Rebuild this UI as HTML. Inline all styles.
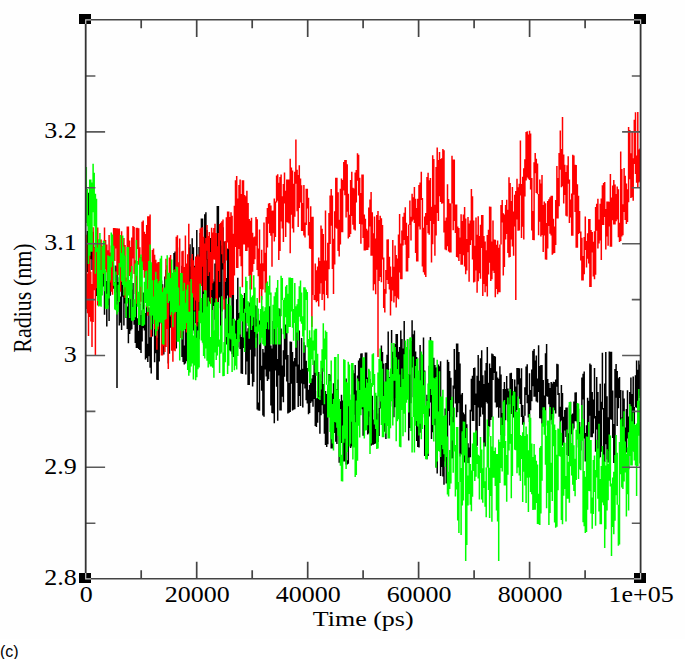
<!DOCTYPE html>
<html><head><meta charset="utf-8"><title>Radius vs Time</title><style>
html,body{margin:0;padding:0;background:#fff;overflow:hidden}
svg{display:block}
.c{position:absolute;left:0px;top:643px;font:16px "Liberation Sans",sans-serif;color:#000}
</style></head><body>
<svg width="685" height="659" viewBox="0 0 685 659">
<rect x="0" y="0" width="685" height="639" fill="#fefefe"/>
<g fill="none" stroke-width="1.5">
<path d="M86.3 237.1V267.4M87.4 230.9V272.0M88.5 192.8V273.2M89.7 220.0V287.0M90.8 215.3V259.3M92.0 246.2V270.1M93.1 231.7V260.1M94.2 247.3V283.3M95.4 242.8V280.3M96.5 256.0V295.9M97.7 258.8V297.1M98.8 273.7V289.3M99.9 253.8V299.9M101.1 255.8V277.6M102.2 249.4V287.6M103.4 256.1V286.4M104.5 261.3V314.7M105.6 272.5V300.3M106.8 281.0V326.4M107.9 263.2V305.3M109.1 279.7V320.9M110.2 271.2V295.8M111.3 263.9V286.7M112.5 260.9V279.9M113.6 265.5V288.8M114.8 282.1V293.3M115.9 265.4V292.4M117.0 266.4V388.0M118.2 281.9V301.1M119.3 277.2V325.4M120.5 296.5V322.8M121.6 277.5V330.1M122.7 272.8V296.8M123.9 289.6V325.5M125.0 286.5V303.4M126.1 287.2V318.0M127.3 306.5V328.9M128.4 298.1V343.3M129.6 314.1V334.1M130.7 298.5V330.6M131.8 289.4V329.3M133.0 282.9V316.4M134.1 310.6V324.8M135.3 301.9V342.9M136.4 293.4V348.0M137.5 318.2V348.0M138.7 330.8V348.9M139.8 303.9V350.0M141.0 315.0V353.0M142.1 310.3V341.6M143.2 292.6V328.2M144.4 304.7V330.4M145.5 312.9V359.5M146.7 296.5V358.0M147.8 343.7V362.0M148.9 307.6V356.2M150.1 337.2V367.8M151.2 303.8V373.6M152.4 291.7V336.6M153.5 290.3V302.2M154.6 290.2V362.2M155.8 313.4V353.3M156.9 337.7V379.8M158.1 327.2V379.9M159.2 284.1V361.4M160.3 281.8V310.5M161.5 280.4V324.1M162.6 284.2V323.8M163.8 296.7V354.6M164.9 276.6V336.0M166.0 269.8V276.6M167.2 269.6V326.1M168.3 299.5V363.4M169.4 288.8V353.7M170.6 267.2V327.8M171.7 281.7V323.7M172.9 273.3V330.8M174.0 253.1V319.1M175.1 251.5V309.0M176.3 274.0V348.6M177.4 247.5V312.9M178.6 271.5V312.9M179.7 272.9V311.9M180.8 281.6V329.6M182.0 265.7V357.0M183.1 269.9V362.0M184.3 345.5V364.5M185.4 292.6V363.5M186.5 291.9V361.2M187.7 285.4V361.2M188.8 247.4V308.8M190.0 244.2V292.9M191.1 266.5V324.5M192.2 238.2V305.2M193.4 247.3V330.5M194.5 265.8V333.8M195.7 261.1V323.2M196.8 230.1V340.9M197.9 271.8V330.5M199.1 246.9V339.3M200.2 233.1V301.9M201.4 218.6V273.2M202.5 218.6V315.5M203.6 281.2V344.5M204.8 214.3V283.7M205.9 212.3V259.7M207.0 230.1V325.9M208.2 258.9V312.6M209.3 248.6V302.0M210.5 238.1V287.8M211.6 244.6V297.4M212.7 279.2V330.6M213.9 281.6V306.1M215.0 263.6V319.8M216.2 253.4V312.7M217.3 206.1V293.4M218.4 206.1V308.2M219.6 257.2V297.6M220.7 238.4V336.6M221.9 245.6V311.4M223.0 227.2V269.5M224.1 241.5V299.4M225.3 281.6V344.3M226.4 278.0V344.5M227.6 248.4V295.4M228.7 248.4V350.0M229.8 317.2V350.4M231.0 317.8V351.5M232.1 264.9V354.3M233.3 294.6V357.0M234.4 320.5V357.0M235.5 320.5V362.4M236.7 299.3V344.3M237.8 277.8V347.5M239.0 313.0V338.9M240.1 312.3V348.9M241.2 337.0V373.5M242.4 297.9V374.1M243.5 297.9V348.0M244.6 293.0V346.0M245.8 312.4V374.6M246.9 331.4V361.5M248.1 328.3V385.0M249.2 302.6V385.0M250.3 303.1V349.7M251.5 304.1V373.7M252.6 325.6V386.4M253.8 305.1V382.0M254.9 305.1V356.4M256.0 305.8V337.8M257.2 318.7V409.4M258.3 402.6V410.6M259.5 320.6V410.8M260.6 313.7V380.2M261.7 365.7V390.8M262.9 348.9V415.5M264.0 352.5V416.7M265.2 311.0V369.4M266.3 311.0V376.4M267.4 313.7V381.1M268.6 311.8V379.3M269.7 306.2V371.4M270.9 345.5V405.6M272.0 348.6V413.1M273.1 321.0V413.5M274.3 318.9V423.2M275.4 319.8V370.5M276.6 312.7V386.7M277.7 359.1V420.8M278.8 308.6V375.4M280.0 308.7V410.6M281.1 328.5V410.6M282.3 365.5V396.8M283.4 350.2V402.3M284.5 328.2V376.7M285.7 324.5V359.6M286.8 328.2V381.5M287.9 355.0V413.4M289.1 382.9V412.8M290.2 341.6V412.1M291.4 341.8V383.7M292.5 352.1V410.4M293.6 361.2V409.7M294.8 358.0V409.3M295.9 320.2V366.4M297.1 331.3V383.0M298.2 364.4V407.0M299.3 330.6V395.9M300.5 369.8V406.0M301.6 337.9V383.5M302.8 368.7V407.5M303.9 342.2V384.2M305.0 345.3V388.4M306.2 360.7V400.3M307.3 368.0V403.4M308.5 389.7V414.3M309.6 385.1V412.9M310.7 381.5V402.9M311.9 378.6V401.6M313.0 375.1V406.7M314.2 360.5V398.9M315.3 369.2V426.1M316.4 398.3V427.1M317.6 391.1V422.7M318.7 371.9V412.2M319.9 395.8V433.8M321.0 380.9V415.2M322.1 366.4V405.2M323.3 384.1V413.8M324.4 395.9V433.7M325.5 390.9V445.1M326.7 393.9V447.0M327.8 388.7V444.3M329.0 374.1V388.7M330.1 374.4V416.1M331.2 395.9V448.4M332.4 393.5V448.4M333.5 383.3V428.0M334.7 408.4V433.1M335.8 392.5V441.7M336.9 389.1V443.9M338.1 379.6V420.6M339.2 420.6V462.7M340.4 401.2V443.1M341.5 394.7V443.1M342.6 400.6V435.8M343.8 405.8V461.6M344.9 390.6V461.6M346.1 378.6V464.4M347.2 460.3V464.5M348.3 393.7V463.8M349.5 394.5V430.8M350.6 403.7V447.9M351.8 400.7V446.4M352.9 370.3V400.7M354.0 373.3V414.8M355.2 364.9V424.8M356.3 390.5V424.8M357.5 375.4V417.9M358.6 360.5V423.2M359.7 358.3V393.5M360.9 353.5V393.1M362.0 353.2V409.3M363.1 381.5V435.8M364.3 379.5V435.8M365.4 352.6V401.3M366.6 352.5V416.6M367.7 377.4V434.5M368.8 369.8V433.5M370.0 379.1V416.8M371.1 383.6V445.7M372.3 395.8V444.8M373.4 419.5V444.7M374.5 409.8V444.1M375.7 402.5V443.5M376.8 395.7V436.2M378.0 413.6V442.1M379.1 408.0V436.1M380.2 373.2V408.5M381.4 345.5V388.9M382.5 351.9V417.4M383.7 363.5V398.0M384.8 393.6V431.7M385.9 362.9V438.9M387.1 354.8V408.6M388.2 331.5V397.6M389.4 377.1V421.5M390.5 371.4V406.5M391.6 330.1V389.6M392.8 351.7V398.4M393.9 358.1V417.3M395.1 343.9V407.3M396.2 334.0V397.9M397.3 334.0V394.0M398.5 351.7V405.0M399.6 347.0V407.5M400.8 330.6V391.1M401.9 339.0V387.8M403.0 348.5V389.0M404.2 321.1V389.0M405.3 342.6V391.2M406.4 347.6V391.2M407.6 339.3V394.2M408.7 374.5V440.5M409.9 349.4V427.9M411.0 341.0V403.2M412.1 320.2V367.4M413.3 334.3V397.3M414.4 330.5V411.1M415.6 351.6V417.8M416.7 356.9V441.1M417.8 420.2V447.1M419.0 399.2V447.4M420.1 344.9V432.8M421.3 369.9V418.5M422.4 371.3V417.4M423.5 337.4V394.8M424.7 370.5V455.9M425.8 412.8V457.1M427.0 394.8V459.2M428.1 399.1V455.9M429.2 365.8V416.6M430.4 337.0V402.4M431.5 355.4V438.9M432.7 361.8V432.3M433.8 357.8V408.5M434.9 365.1V425.2M436.1 367.5V467.4M437.2 367.2V473.6M438.4 364.6V437.9M439.5 366.2V411.0M440.6 361.3V475.9M441.8 410.0V466.9M442.9 415.8V476.4M444.0 436.1V484.8M445.2 408.5V461.6M446.3 408.5V483.4M447.5 359.7V483.4M448.6 361.9V411.1M449.7 371.0V425.6M450.9 377.8V416.7M452.0 416.7V458.6M453.2 385.5V458.0M454.3 348.9V388.8M455.4 369.7V403.6M456.6 343.4V417.2M457.7 343.4V412.3M458.9 352.0V403.2M460.0 363.4V456.6M461.1 394.6V454.5M462.3 393.0V432.8M463.4 412.4V443.6M464.6 414.3V462.6M465.7 404.6V441.0M466.8 424.3V443.2M468.0 443.2V463.1M469.1 447.5V463.2M470.3 409.8V457.3M471.4 378.7V411.4M472.5 375.8V421.0M473.7 367.9V421.0M474.8 367.5V405.1M476.0 393.5V458.0M477.1 375.7V445.8M478.2 355.0V407.4M479.4 380.8V426.1M480.5 358.3V416.8M481.7 350.3V407.4M482.8 375.3V414.4M483.9 384.0V446.5M485.1 370.6V446.5M486.2 362.9V402.0M487.3 347.1V403.6M488.5 382.8V436.6M489.6 363.6V426.8M490.8 367.9V419.9M491.9 353.5V417.2M493.0 354.3V380.1M494.2 356.0V373.0M495.3 356.5V402.6M496.5 371.4V407.6M497.6 377.5V407.0M498.7 378.8V417.8M499.9 366.3V407.7M501.0 374.6V435.0M502.2 412.9V445.6M503.3 389.1V444.3M504.4 382.0V435.9M505.6 388.9V420.3M506.7 376.1V404.6M507.9 388.6V421.5M509.0 391.2V413.3M510.1 373.2V404.3M511.3 372.7V413.9M512.4 379.0V405.9M513.6 391.8V417.6M514.7 379.5V417.6M515.8 386.5V423.7M517.0 368.1V409.9M518.1 368.1V384.4M519.3 368.2V398.8M520.4 378.3V404.1M521.5 368.3V417.0M522.7 404.9V424.7M523.8 415.7V424.6M524.9 387.3V415.7M526.1 366.6V395.0M527.2 364.3V403.3M528.4 394.7V417.4M529.5 373.2V422.1M530.6 390.1V410.2M531.8 369.4V401.3M532.9 350.8V386.3M534.1 349.1V396.8M535.2 360.5V396.8M536.3 355.5V401.5M537.5 378.4V402.4M538.6 345.2V392.0M539.8 366.1V418.2M540.9 365.0V418.5M542.0 365.0V423.7M543.2 379.9V410.1M544.3 395.5V425.4M545.5 353.2V425.4M546.6 344.0V396.2M547.7 379.0V396.8M548.9 383.0V404.2M550.0 388.1V420.6M551.2 382.0V419.8M552.3 383.4V424.6M553.4 381.7V418.6M554.6 382.0V410.3M555.7 379.5V413.5M556.9 363.8V386.8M558.0 364.2V395.0M559.1 392.9V416.7M560.3 406.7V440.6M561.4 385.1V420.6M562.5 392.9V445.5M563.7 416.7V446.5M564.8 410.0V430.4M566.0 407.4V437.1M567.1 407.4V454.9M568.2 433.2V456.0M569.4 405.6V437.4M570.5 401.8V444.7M571.7 414.4V434.2M572.8 413.4V430.3M573.9 401.6V428.5M575.1 392.6V421.3M576.2 392.3V421.3M577.4 406.2V422.4M578.5 408.7V447.6M579.6 421.9V464.0M580.8 427.5V450.5M581.9 377.6V429.0M583.1 373.8V399.5M584.2 371.6V438.4M585.3 432.9V461.4M586.5 425.3V461.3M587.6 397.8V448.1M588.8 400.7V444.1M589.9 363.6V415.7M591.0 364.8V437.2M592.2 392.1V437.2M593.3 399.5V433.6M594.5 368.1V418.5M595.6 416.0V451.8M596.7 376.9V429.6M597.9 392.0V457.5M599.0 410.8V458.4M600.2 383.7V457.2M601.3 401.8V451.8M602.4 352.8V409.4M603.6 408.1V461.8M604.7 383.5V462.0M605.8 351.9V444.2M607.0 396.2V459.4M608.1 417.3V462.4M609.3 351.4V451.1M610.4 351.8V419.3M611.5 351.8V419.8M612.7 390.4V437.9M613.8 423.9V462.9M615.0 369.0V463.0M616.1 364.0V397.7M617.2 371.0V426.0M618.4 378.3V408.3M619.5 377.0V398.0M620.7 390.0V446.7M621.8 417.6V466.4M622.9 390.6V427.3M624.1 398.4V440.7M625.2 427.6V454.3M626.4 409.0V452.5M627.5 390.3V438.6M628.6 416.4V469.3M629.8 392.1V435.7M630.9 377.4V430.1M632.1 393.9V421.4M633.2 376.4V445.6M634.3 407.0V451.9M635.5 375.2V407.3M636.6 360.4V407.7M637.8 369.7V403.9M638.9 360.4V398.1M640.0 364.5V395.8" stroke="#000"/>
<path d="M86.3 234.7V309.0M87.4 273.6V313.3M88.5 242.3V336.0M89.7 242.3V316.9M90.8 271.7V321.6M92.0 283.9V347.0M93.1 227.2V321.9M94.2 247.6V290.3M95.4 256.4V356.0M96.5 238.6V288.3M97.7 227.4V305.4M98.8 253.3V294.8M99.9 239.4V278.2M101.1 239.4V281.2M102.2 245.5V274.0M103.4 249.7V274.0M104.5 227.6V267.5M105.6 239.9V269.4M106.8 244.6V272.6M107.9 250.2V281.4M109.1 235.1V273.1M110.2 252.6V282.5M111.3 245.6V291.8M112.5 245.7V294.8M113.6 228.0V260.0M114.8 228.1V260.9M115.9 228.2V248.5M117.0 228.2V275.1M118.2 228.4V275.1M119.3 228.5V274.0M120.5 248.3V291.7M121.6 231.2V282.0M122.7 242.5V267.0M123.9 238.0V263.3M125.0 245.0V297.7M126.1 277.6V297.9M127.3 226.4V277.6M128.4 226.4V262.5M129.6 240.4V275.9M130.7 247.0V299.2M131.8 237.5V278.6M133.0 226.1V258.6M134.1 227.0V274.1M135.3 260.2V294.1M136.4 227.7V303.8M137.5 227.8V248.9M138.7 228.2V264.8M139.8 247.2V305.0M141.0 257.0V301.8M142.1 221.7V267.5M143.2 220.5V270.0M144.4 231.7V277.7M145.5 234.0V274.2M146.7 224.9V307.6M147.8 216.3V315.7M148.9 216.3V280.1M150.1 214.4V272.0M151.2 264.5V336.9M152.4 250.1V302.3M153.5 248.4V302.3M154.6 254.8V329.2M155.8 259.7V296.1M156.9 263.3V349.8M158.1 262.0V329.6M159.2 262.0V312.0M160.3 291.7V322.5M161.5 284.9V355.6M162.6 287.5V355.6M163.8 298.6V346.2M164.9 306.9V352.1M166.0 258.7V347.0M167.2 265.2V329.1M168.3 291.6V369.0M169.4 257.4V295.6M170.6 254.9V316.5M171.7 296.2V350.7M172.9 281.4V361.8M174.0 293.7V350.6M175.1 268.9V351.3M176.3 236.8V297.2M177.4 235.3V301.1M178.6 262.2V302.2M179.7 238.6V308.3M180.8 273.9V337.9M182.0 251.3V315.0M183.1 250.8V304.6M184.3 266.9V306.7M185.4 235.5V318.4M186.5 263.4V332.6M187.7 254.2V289.6M188.8 223.7V321.3M190.0 281.4V326.9M191.1 258.5V305.8M192.2 253.9V311.0M193.4 260.2V297.6M194.5 267.2V310.5M195.7 256.6V300.4M196.8 256.6V326.4M197.9 254.6V322.1M199.1 256.4V302.1M200.2 228.6V300.4M201.4 227.7V285.9M202.5 227.2V266.8M203.6 236.8V291.6M204.8 243.6V306.2M205.9 238.1V322.1M207.0 225.0V250.7M208.2 236.0V275.9M209.3 232.0V272.3M210.5 252.1V303.7M211.6 227.7V290.1M212.7 232.4V283.2M213.9 228.0V259.4M215.0 223.8V259.7M216.2 233.0V307.3M217.3 246.3V304.5M218.4 233.1V271.0M219.6 223.9V281.9M220.7 222.8V240.4M221.9 221.2V254.2M223.0 219.6V263.2M224.1 263.2V309.6M225.3 240.9V281.5M226.4 217.3V260.6M227.6 211.6V242.4M228.7 211.6V249.2M229.8 216.9V297.8M231.0 212.3V297.8M232.1 215.7V294.9M233.3 233.8V294.9M234.4 205.7V275.5M235.5 180.3V247.1M236.7 176.0V268.1M237.8 198.5V268.1M239.0 185.0V249.1M240.1 179.6V256.3M241.2 194.0V266.3M242.4 180.2V287.2M243.5 180.2V244.4M244.6 195.0V244.4M245.8 196.2V251.0M246.9 190.8V251.0M248.1 203.1V247.6M249.2 218.9V276.0M250.3 220.7V289.4M251.5 217.7V289.4M252.6 232.8V271.7M253.8 237.3V264.1M254.9 236.6V259.2M256.0 217.1V245.8M257.2 219.2V270.1M258.3 248.6V276.3M259.5 229.5V302.8M260.6 263.5V288.9M261.7 249.7V299.7M262.9 263.2V289.4M264.0 222.5V271.2M265.2 252.8V292.4M266.3 216.9V287.6M267.4 208.0V247.6M268.6 203.5V223.8M269.7 202.9V233.0M270.9 205.5V235.8M272.0 210.8V266.8M273.1 210.5V233.2M274.3 198.5V241.4M275.4 201.6V237.1M276.6 175.5V202.6M277.7 174.3V200.7M278.8 182.8V260.0M280.0 176.9V251.0M281.1 174.4V221.5M282.3 196.2V228.4M283.4 184.0V242.0M284.5 172.4V203.4M285.7 190.8V236.9M286.8 179.4V222.3M287.9 179.6V222.6M289.1 179.6V223.4M290.2 158.8V253.3M291.4 167.4V214.7M292.5 170.6V228.5M293.6 183.8V232.6M294.8 171.7V216.8M295.9 139.4V183.8M297.1 169.7V211.2M298.2 174.9V227.0M299.3 165.3V207.9M300.5 178.4V202.4M301.6 185.2V231.0M302.8 203.1V231.0M303.9 184.9V235.6M305.0 222.5V237.4M306.2 188.8V225.0M307.3 188.8V208.6M308.5 197.7V235.6M309.6 221.9V248.5M310.7 206.3V249.0M311.9 216.7V327.0M313.0 216.7V295.0M314.2 295.0V300.1M315.3 263.5V300.3M316.4 270.3V302.2M317.6 266.4V300.9M318.7 257.4V306.4M319.9 261.1V293.7M321.0 225.6V283.3M322.1 228.7V299.9M323.3 234.1V294.2M324.4 260.5V310.5M325.5 210.6V280.7M326.7 260.5V295.1M327.8 242.7V298.3M329.0 212.9V269.3M330.1 195.4V244.1M331.2 189.1V225.8M332.4 195.5V269.0M333.5 238.7V293.9M334.7 211.3V264.5M335.8 177.7V227.7M336.9 177.7V228.7M338.1 192.2V250.9M339.2 219.7V256.5M340.4 188.8V244.4M341.5 178.5V232.2M342.6 179.9V232.2M343.8 162.0V190.5M344.9 160.0V195.2M346.1 160.0V217.6M347.2 164.2V211.8M348.3 193.8V238.6M349.5 214.8V236.9M350.6 179.9V234.0M351.8 171.8V216.1M352.9 187.7V224.7M354.0 188.6V229.6M355.2 172.4V230.5M356.3 170.1V202.6M357.5 153.3V180.8M358.6 154.7V195.5M359.7 177.8V224.1M360.9 192.9V243.7M362.0 174.6V224.6M363.1 174.6V237.9M364.3 214.6V250.4M365.4 218.7V250.4M366.6 228.7V250.0M367.7 230.4V249.9M368.8 207.4V247.5M370.0 199.6V226.6M371.1 191.9V255.7M372.3 212.3V255.7M373.4 233.3V290.5M374.5 216.5V284.2M375.7 238.4V294.3M376.8 215.1V269.7M378.0 211.1V357.0M379.1 220.0V281.1M380.2 215.7V277.1M381.4 218.2V282.2M382.5 225.0V259.6M383.7 257.4V308.1M384.8 289.1V312.6M385.9 270.1V293.8M387.1 239.5V280.1M388.2 239.3V284.0M389.4 256.7V289.5M390.5 266.4V315.4M391.6 276.7V301.3M392.8 239.9V290.6M393.9 266.7V302.4M395.1 245.4V296.3M396.2 255.0V307.4M397.3 258.4V297.7M398.5 234.6V299.2M399.6 214.0V272.6M400.8 243.5V279.3M401.9 230.6V279.3M403.0 216.7V245.4M404.2 212.8V240.0M405.3 207.3V244.8M406.4 222.7V271.5M407.6 235.9V271.5M408.7 224.5V257.9M409.9 200.4V225.0M411.0 216.8V240.6M412.1 193.7V221.6M413.3 197.2V219.8M414.4 187.0V223.0M415.6 198.8V253.0M416.7 208.0V261.5M417.8 198.8V261.5M419.0 185.1V226.4M420.1 182.5V229.4M421.3 171.7V199.9M422.4 198.1V266.5M423.5 227.8V272.2M424.7 216.5V274.8M425.8 213.0V277.1M427.0 177.0V225.1M428.1 172.8V233.3M429.2 180.3V234.7M430.4 177.9V221.0M431.5 206.8V262.4M432.7 155.2V244.3M433.8 159.0V224.1M434.9 204.7V255.7M436.1 167.0V235.5M437.2 147.6V213.0M438.4 160.1V221.1M439.5 151.9V196.2M440.6 158.9V202.0M441.8 158.2V203.8M442.9 149.1V203.3M444.0 150.2V232.6M445.2 220.7V249.5M446.3 217.6V250.3M447.5 184.2V246.2M448.6 198.9V251.5M449.7 203.3V252.6M450.9 203.6V252.6M452.0 155.8V203.6M453.2 159.4V230.3M454.3 159.4V221.0M455.4 204.4V232.9M456.6 204.4V256.9M457.7 226.6V257.6M458.9 227.9V260.9M460.0 237.5V253.9M461.1 214.3V264.8M462.3 221.1V264.8M463.4 214.5V255.2M464.6 207.1V266.5M465.7 218.6V274.3M466.8 238.9V270.6M468.0 217.1V252.3M469.1 223.4V281.7M470.3 220.6V245.0M471.4 188.9V240.2M472.5 196.2V259.4M473.7 220.5V282.4M474.8 245.8V281.7M476.0 217.6V270.4M477.1 234.8V292.8M478.2 216.2V281.2M479.4 235.9V273.3M480.5 224.8V278.7M481.7 215.1V247.9M482.8 215.1V295.9M483.9 236.0V284.0M485.1 241.6V292.3M486.2 250.2V286.3M487.3 235.0V296.4M488.5 229.8V274.4M489.6 206.4V262.7M490.8 206.7V281.1M491.9 241.4V279.3M493.0 220.4V270.8M494.2 239.6V273.1M495.3 239.8V297.3M496.5 244.7V289.1M497.6 240.4V294.2M498.7 247.7V292.3M499.9 244.6V292.3M501.0 204.9V244.6M502.2 200.0V222.4M503.3 213.2V275.6M504.4 214.4V267.0M505.6 205.0V239.4M506.7 199.7V233.9M507.9 209.7V253.1M509.0 177.3V257.5M510.1 183.0V257.0M511.3 201.1V239.4M512.4 187.0V246.4M513.6 211.4V255.7M514.7 194.8V226.5M515.8 191.0V300.0M517.0 178.8V219.5M518.1 187.2V230.7M519.3 183.7V230.5M520.4 140.5V195.5M521.5 183.9V238.0M522.7 176.7V226.7M523.8 168.2V239.6M524.9 159.2V196.5M526.1 131.9V180.6M527.2 131.2V177.5M528.4 134.4V178.7M529.5 130.7V179.9M530.6 133.6V189.4M531.8 178.0V230.6M532.9 211.0V240.0M534.1 162.3V240.3M535.2 152.9V173.2M536.3 158.7V193.0M537.5 163.4V194.2M538.6 194.1V235.2M539.8 179.4V221.7M540.9 183.4V236.4M542.0 175.1V235.0M543.2 205.1V252.0M544.3 201.4V235.5M545.5 203.2V259.4M546.6 223.1V259.8M547.7 201.0V248.6M548.9 199.2V226.1M550.0 197.3V233.7M551.2 195.7V235.4M552.3 195.7V254.7M553.4 218.8V253.5M554.6 226.6V252.9M555.7 200.1V245.1M556.9 166.1V218.5M558.0 177.9V218.6M559.1 153.1V206.2M560.3 130.4V169.8M561.4 148.9V187.2M562.5 117.0V186.2M563.7 154.5V203.6M564.8 164.8V195.1M566.0 171.9V215.7M567.1 165.3V216.6M568.2 156.2V183.8M569.4 179.4V222.9M570.5 199.6V217.6M571.7 193.5V235.8M572.8 154.7V235.8M573.9 155.5V194.8M575.1 164.8V212.0M576.2 165.1V247.7M577.4 184.2V247.7M578.5 195.7V234.1M579.6 210.9V233.0M580.8 231.6V260.4M581.9 237.8V280.6M583.1 256.1V280.6M584.2 237.1V274.2M585.3 216.5V250.0M586.5 241.1V267.6M587.6 233.3V258.8M588.8 219.1V263.5M589.9 219.0V287.1M591.0 229.9V287.1M592.2 232.1V252.6M593.3 241.7V276.6M594.5 231.3V279.3M595.6 207.1V274.7M596.7 203.8V230.8M597.9 198.8V248.5M599.0 219.5V243.4M600.2 203.8V240.5M601.3 198.5V260.0M602.4 185.2V225.0M603.6 183.1V225.0M604.7 182.0V217.1M605.8 209.0V249.5M607.0 201.6V236.4M608.1 201.6V245.7M609.3 201.8V226.4M610.4 174.1V246.7M611.5 197.5V246.7M612.7 185.5V220.3M613.8 180.0V224.4M615.0 184.5V224.4M616.1 193.9V221.2M617.2 186.5V219.5M618.4 189.2V237.2M619.5 222.8V242.1M620.7 151.4V240.9M621.8 168.9V236.6M622.9 204.3V235.2M624.1 168.0V212.1M625.2 175.8V219.9M626.4 183.6V224.0M627.5 189.2V222.1M628.6 127.0V202.2M629.8 130.0V179.3M630.9 153.2V197.9M632.1 130.9V197.2M633.2 158.3V200.8M634.3 119.7V163.9M635.5 112.2V174.0M636.6 155.6V182.7M637.8 112.0V187.4M638.9 149.6V182.6M640.0 148.6V181.4" stroke="#f00"/>
<path d="M86.3 167.0V222.9M87.4 189.1V226.2M88.5 215.3V264.0M89.7 179.4V255.8M90.8 179.4V251.7M92.0 182.5V251.7M93.1 163.7V212.3M94.2 172.7V226.3M95.4 193.7V273.7M96.5 198.8V251.9M97.7 247.4V300.9M98.8 239.3V306.6M99.9 233.1V305.7M101.1 270.1V306.8M102.2 246.2V295.4M103.4 240.6V273.2M104.5 241.3V291.2M105.6 270.2V308.7M106.8 293.7V309.2M107.9 255.2V308.7M109.1 256.3V298.4M110.2 256.3V280.6M111.3 232.4V267.3M112.5 234.5V261.4M113.6 245.7V285.8M114.8 282.2V309.5M115.9 271.5V310.3M117.0 304.6V314.6M118.2 284.8V311.8M119.3 263.1V302.1M120.5 234.9V267.2M121.6 253.0V281.3M122.7 235.6V285.1M123.9 246.6V295.4M125.0 255.6V287.2M126.1 281.5V317.7M127.3 247.0V303.6M128.4 247.0V295.6M129.6 279.9V317.9M130.7 272.1V298.7M131.8 266.1V320.8M133.0 306.9V321.2M134.1 299.3V319.9M135.3 263.4V317.3M136.4 240.1V275.7M137.5 261.0V306.7M138.7 291.8V325.0M139.8 257.8V325.0M141.0 254.5V286.7M142.1 261.4V325.9M143.2 309.2V326.1M144.4 281.8V324.7M145.5 271.3V303.0M146.7 270.6V306.6M147.8 288.7V312.0M148.9 261.1V306.0M150.1 244.6V315.7M151.2 262.2V329.6M152.4 280.2V315.6M153.5 296.5V323.9M154.6 280.1V319.8M155.8 271.7V335.8M156.9 279.0V331.1M158.1 283.2V326.6M159.2 281.1V321.9M160.3 258.5V322.7M161.5 255.8V322.7M162.6 292.1V344.2M163.8 288.5V344.7M164.9 287.6V320.0M166.0 279.2V318.9M167.2 255.2V293.8M168.3 272.7V303.1M169.4 272.7V301.2M170.6 278.1V315.0M171.7 259.5V311.9M172.9 272.8V327.3M174.0 270.1V313.6M175.1 272.1V312.1M176.3 266.4V312.0M177.4 267.0V341.8M178.6 287.5V341.8M179.7 305.6V360.5M180.8 273.1V330.4M182.0 273.1V339.4M183.1 291.1V331.3M184.3 282.8V330.1M185.4 302.8V328.9M186.5 289.5V323.1M187.7 284.7V370.1M188.8 311.7V375.7M190.0 311.7V372.5M191.1 279.1V366.5M192.2 293.2V363.5M193.4 335.6V379.4M194.5 311.5V365.5M195.7 324.4V380.3M196.8 337.8V377.3M197.9 330.8V369.2M199.1 310.7V367.4M200.2 283.7V323.3M201.4 298.0V340.6M202.5 312.6V342.8M203.6 294.0V355.9M204.8 289.9V358.5M205.9 290.5V348.5M207.0 306.6V360.8M208.2 297.5V367.6M209.3 301.6V364.3M210.5 337.1V366.6M211.6 298.0V366.6M212.7 310.1V367.7M213.9 330.2V377.8M215.0 302.6V352.5M216.2 298.5V359.9M217.3 301.9V355.5M218.4 301.9V346.8M219.6 339.5V373.1M220.7 325.5V353.7M221.9 296.2V352.4M223.0 352.4V376.3M224.1 342.1V376.0M225.3 318.4V362.2M226.4 298.6V337.1M227.6 304.0V374.0M228.7 333.2V365.7M229.8 297.6V338.5M231.0 305.5V339.5M232.1 325.7V372.0M233.3 318.8V345.9M234.4 318.8V370.2M235.5 333.5V365.8M236.7 339.1V369.6M237.8 320.0V356.0M239.0 318.6V342.1M240.1 286.8V334.4M241.2 293.7V320.8M242.4 295.1V321.4M243.5 313.0V337.4M244.6 308.7V352.0M245.8 276.7V312.3M246.9 281.0V323.2M248.1 301.2V326.1M249.2 306.5V338.7M250.3 275.1V315.7M251.5 297.2V330.0M252.6 295.5V325.5M253.8 275.2V317.2M254.9 287.4V332.0M256.0 326.4V348.0M257.2 298.1V333.7M258.3 308.4V331.8M259.5 324.5V344.6M260.6 309.0V342.8M261.7 295.9V337.7M262.9 306.3V344.2M264.0 311.6V345.7M265.2 307.2V345.7M266.3 283.3V329.0M267.4 281.4V322.2M268.6 286.0V329.6M269.7 275.5V294.8M270.9 292.5V344.5M272.0 344.5V344.5M273.1 304.8V344.5M274.3 296.2V329.0M275.4 292.2V344.5M276.6 287.7V344.5M277.7 279.9V327.4M278.8 308.3V344.5M280.0 316.3V344.5M281.1 275.8V316.3M282.3 277.9V299.9M283.4 299.9V334.2M284.5 297.7V338.8M285.7 286.5V317.2M286.8 285.0V333.3M287.9 293.7V333.3M289.1 277.4V327.1M290.2 277.6V327.1M291.4 278.0V311.4M292.5 278.0V327.7M293.6 309.1V340.7M294.8 282.9V323.0M295.9 306.2V347.8M297.1 304.2V332.5M298.2 299.1V340.4M299.3 286.3V316.8M300.5 280.6V321.5M301.6 292.4V323.8M302.8 316.2V336.5M303.9 287.2V352.8M305.0 287.2V330.2M306.2 289.4V300.0M307.3 292.1V347.2M308.5 338.9V371.4M309.6 330.3V383.2M310.7 337.4V383.1M311.9 316.2V359.3M313.0 340.5V364.9M314.2 330.2V350.4M315.3 328.7V372.8M316.4 328.7V375.8M317.6 353.7V397.9M318.7 397.3V399.1M319.9 374.3V400.0M321.0 360.8V389.4M322.1 349.3V368.3M323.3 323.3V371.8M324.4 338.5V404.2M325.5 330.5V359.6M326.7 331.9V384.8M327.8 384.8V417.4M329.0 374.8V417.4M330.1 381.2V432.0M331.2 360.4V439.2M332.4 403.9V443.4M333.5 399.0V450.6M334.7 356.9V422.1M335.8 356.9V422.6M336.9 390.1V427.7M338.1 353.9V435.8M339.2 399.0V457.0M340.4 408.9V465.7M341.5 454.7V481.2M342.6 425.4V481.4M343.8 359.3V442.8M344.9 359.9V438.8M346.1 381.8V468.9M347.2 382.5V451.9M348.3 361.8V406.3M349.5 364.6V446.4M350.6 399.8V443.7M351.8 363.1V421.8M352.9 363.1V459.5M354.0 394.4V447.4M355.2 422.2V477.0M356.3 400.4V475.0M357.5 378.5V460.7M358.6 381.2V425.7M359.7 389.9V437.4M360.9 367.7V415.2M362.0 367.8V407.3M363.1 357.3V407.3M364.3 357.3V438.5M365.4 387.8V430.4M366.6 379.0V430.3M367.7 382.7V425.3M368.8 368.8V411.3M370.0 371.2V454.1M371.1 382.9V443.4M372.3 354.3V386.8M373.4 353.2V385.0M374.5 374.0V424.5M375.7 392.7V429.0M376.8 419.5V449.1M378.0 372.5V448.4M379.1 359.0V396.6M380.2 348.5V401.4M381.4 361.2V425.1M382.5 368.8V437.2M383.7 396.1V437.2M384.8 381.6V423.2M385.9 381.6V433.6M387.1 369.3V425.9M388.2 369.9V438.4M389.4 378.0V438.4M390.5 368.5V428.3M391.6 342.9V401.2M392.8 374.1V425.4M393.9 343.0V380.8M395.1 347.0V380.8M396.2 357.3V441.3M397.3 369.1V421.2M398.5 359.4V419.2M399.6 374.5V446.8M400.8 386.9V447.2M401.9 368.6V410.0M403.0 379.1V436.3M404.2 354.2V413.8M405.3 340.4V432.3M406.4 346.9V402.8M407.6 339.1V399.8M408.7 374.5V412.5M409.9 337.4V374.5M411.0 337.2V431.0M412.1 417.0V452.5M413.3 356.5V417.0M414.4 378.3V452.6M415.6 366.0V425.8M416.7 359.0V421.0M417.8 358.2V426.4M419.0 370.4V435.5M420.1 380.3V423.7M421.3 351.6V439.2M422.4 354.5V429.0M423.5 385.3V413.9M424.7 371.6V425.1M425.8 405.6V459.2M427.0 400.9V459.2M428.1 383.4V453.7M429.2 340.2V408.6M430.4 340.2V389.0M431.5 340.3V395.1M432.7 340.8V424.9M433.8 377.8V441.5M434.9 378.5V418.7M436.1 377.1V467.7M437.2 359.7V461.6M438.4 411.5V451.0M439.5 371.3V451.8M440.6 396.4V457.1M441.8 396.4V444.9M442.9 389.7V449.2M444.0 416.2V454.2M445.2 415.0V466.7M446.3 397.2V457.0M447.5 436.6V494.5M448.6 471.7V496.5M449.7 450.1V489.0M450.9 399.9V483.6M452.0 396.8V440.4M453.2 422.3V472.7M454.3 407.6V451.4M455.4 445.1V496.5M456.6 426.9V489.5M457.7 426.9V520.5M458.9 482.1V533.0M460.0 453.5V482.1M461.1 468.1V534.9M462.3 431.3V505.6M463.4 421.4V500.6M464.6 421.7V455.4M465.7 438.0V561.0M466.8 428.1V545.0M468.0 475.6V505.5M469.1 457.5V494.1M470.3 463.9V504.8M471.4 470.4V511.2M472.5 443.6V496.7M473.7 432.5V471.0M474.8 432.5V480.9M476.0 430.5V476.8M477.1 446.8V463.9M478.2 454.7V478.6M479.4 455.7V499.6M480.5 437.1V473.1M481.7 449.4V499.4M482.8 468.2V502.8M483.9 442.6V487.9M485.1 481.2V506.7M486.2 467.4V517.3M487.3 419.6V467.4M488.5 425.9V490.1M489.6 467.7V517.9M490.8 435.9V496.1M491.9 446.5V521.8M493.0 416.5V477.7M494.2 451.0V477.7M495.3 447.5V486.1M496.5 454.0V510.5M497.6 454.0V521.4M498.7 439.6V561.0M499.9 441.9V483.1M501.0 417.4V467.9M502.2 424.9V471.5M503.3 401.5V447.9M504.4 400.1V485.5M505.6 441.0V485.5M506.7 455.1V501.8M507.9 397.5V474.7M509.0 404.5V450.6M510.1 388.9V443.7M511.3 434.0V498.3M512.4 395.4V475.9M513.6 391.1V405.9M514.7 391.9V449.7M515.8 411.8V450.2M517.0 411.8V473.2M518.1 396.6V467.5M519.3 408.0V475.5M520.4 434.9V480.9M521.5 436.0V459.1M522.7 432.2V502.1M523.8 422.2V471.7M524.9 436.0V485.6M526.1 426.4V503.0M527.2 434.2V477.7M528.4 450.3V512.0M529.5 414.1V477.4M530.6 417.7V492.1M531.8 443.5V494.2M532.9 456.9V510.1M534.1 444.0V509.7M535.2 454.7V509.7M536.3 460.7V503.0M537.5 464.6V524.1M538.6 493.8V524.2M539.8 447.7V525.0M540.9 446.1V513.4M542.0 423.1V480.8M543.2 407.2V426.7M544.3 407.2V434.7M545.5 410.2V464.7M546.6 435.8V508.2M547.7 420.4V493.0M548.9 420.4V524.9M550.0 407.1V512.9M551.2 462.7V492.1M552.3 413.9V500.9M553.4 407.5V446.2M554.6 424.4V522.4M555.7 430.0V527.8M556.9 454.7V526.8M558.0 428.5V490.2M559.1 428.9V456.0M560.3 421.6V456.8M561.4 432.7V520.0M562.5 447.0V524.3M563.7 442.4V495.7M564.8 442.8V489.1M566.0 476.0V521.5M567.1 429.6V498.8M568.2 461.7V498.8M569.4 401.9V502.8M570.5 401.9V466.3M571.7 442.9V475.4M572.8 423.4V484.8M573.9 445.3V491.1M575.1 458.8V496.2M576.2 429.8V480.1M577.4 403.0V439.6M578.5 403.4V478.9M579.6 433.7V469.4M580.8 426.4V470.3M581.9 405.1V440.7M583.1 419.1V522.2M584.2 471.0V526.3M585.3 476.8V533.1M586.5 436.6V532.1M587.6 436.7V509.7M588.8 422.1V490.9M589.9 439.9V491.3M591.0 439.9V513.4M592.2 497.6V528.8M593.3 460.0V514.1M594.5 455.4V492.1M595.6 470.0V525.8M596.7 439.7V477.4M597.9 448.4V498.8M599.0 423.8V511.6M600.2 478.9V524.2M601.3 466.1V524.2M602.4 446.1V502.5M603.6 454.6V505.3M604.7 461.6V548.0M605.8 465.6V529.3M607.0 449.3V510.6M608.1 464.1V500.2M609.3 434.6V480.8M610.4 435.4V486.4M611.5 483.6V556.0M612.7 477.5V526.9M613.8 471.8V534.3M615.0 454.9V520.8M616.1 435.1V495.3M617.2 452.7V504.8M618.4 504.8V545.8M619.5 442.1V544.4M620.7 419.5V474.2M621.8 418.2V487.4M622.9 426.6V489.1M624.1 411.3V481.4M625.2 441.4V472.6M626.4 453.8V516.6M627.5 447.5V494.2M628.6 432.2V510.5M629.8 403.9V456.1M630.9 406.3V465.4M632.1 421.4V465.4M633.2 412.5V451.3M634.3 424.0V460.5M635.5 425.0V465.4M636.6 423.4V496.0M637.8 400.7V466.0M638.9 389.0V435.7M640.0 400.7V463.5" stroke="#0f0"/>
</g>
<path d="M85.7 523.2h9.7M640.6 523.2h-8.8M85.7 467.3h19.4M640.6 467.3h-18.5M85.7 411.4h9.7M640.6 411.4h-8.8M85.7 355.5h19.4M640.6 355.5h-18.5M85.7 299.6h9.7M640.6 299.6h-8.8M85.7 243.7h19.4M640.6 243.7h-18.5M85.7 187.8h9.7M640.6 187.8h-8.8M85.7 131.9h19.4M640.6 131.9h-18.5M85.7 76.0h9.7M640.6 76.0h-8.8" stroke="#5a5a5a" stroke-width="1.6" fill="none"/>
<path d="M141.2 578.85v-8.5M141.2 19.8v8.5M196.7 578.85v-17.1M196.7 19.8v17.1M252.2 578.85v-8.5M252.2 19.8v8.5M307.7 578.85v-17.1M307.7 19.8v17.1M363.1 578.85v-8.5M363.1 19.8v8.5M418.6 578.85v-17.1M418.6 19.8v17.1M474.1 578.85v-8.5M474.1 19.8v8.5M529.6 578.85v-17.1M529.6 19.8v17.1M585.1 578.85v-8.5M585.1 19.8v8.5" stroke="#444" stroke-width="1.7" fill="none"/>
<path d="M85.7 19.8V578.85M640.6 19.8V578.85" stroke="#333" stroke-width="1.8" fill="none"/>
<path d="M85.7 19.8H640.6M85.7 578.85H640.6" stroke="#444" stroke-width="1.5" fill="none"/>
<rect x="79" y="14" width="12" height="10" fill="#000"/><rect x="634" y="14" width="12" height="10" fill="#000"/><rect x="79" y="573" width="12" height="10" fill="#000"/><rect x="634" y="573" width="12" height="10" fill="#000"/>
<path d="M85.7 24V19.8H91M634 19.8H640.6V24M85.7 573V578.85H91M634 578.85H640.6V573" stroke="#c8c8c8" stroke-width="1.2" fill="none"/>
<g font-family="'Liberation Serif', serif" font-size="23" fill="#000">
<text transform="translate(76.8,138.1) scale(1.13,1)" text-anchor="end">3.2</text><text transform="translate(76.8,249.9) scale(1.13,1)" text-anchor="end">3.1</text><text transform="translate(76.8,361.7) scale(1.13,1)" text-anchor="end">3</text><text transform="translate(76.8,473.5) scale(1.13,1)" text-anchor="end">2.9</text><text transform="translate(76.8,585.4) scale(1.13,1)" text-anchor="end">2.8</text><text transform="translate(86.2,602.0) scale(1.13,1)" text-anchor="middle">0</text><text transform="translate(197.2,602.0) scale(1.13,1)" text-anchor="middle">20000</text><text transform="translate(308.2,602.0) scale(1.13,1)" text-anchor="middle">40000</text><text transform="translate(419.1,602.0) scale(1.13,1)" text-anchor="middle">60000</text><text transform="translate(530.1,602.0) scale(1.13,1)" text-anchor="middle">80000</text><text transform="translate(641.1,602.0) scale(1.13,1)" text-anchor="middle">1e+05</text><text transform="translate(363.2,625.9) scale(1.18,1)" text-anchor="middle" font-size="22">Time (ps)</text><text transform="translate(30.5,298) scale(1.18,1) rotate(-90)" text-anchor="middle" font-size="22">Radius (nm)</text>
</g>
</svg>
<div class="c">(c)</div>
</body></html>
